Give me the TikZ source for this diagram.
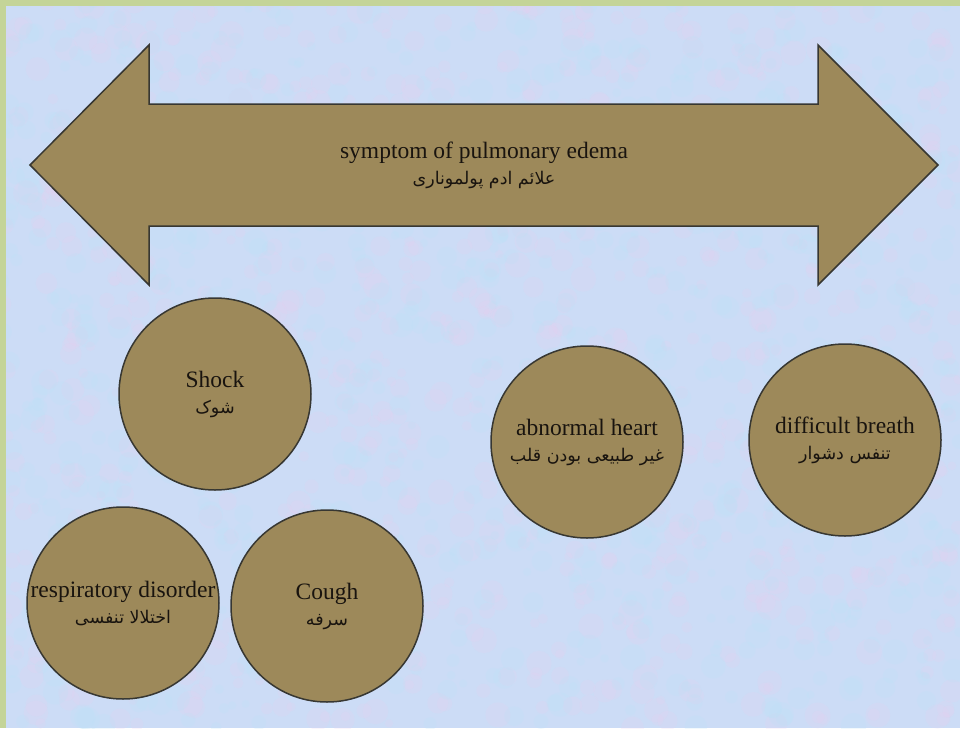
\documentclass[tikz,border=0pt]{standalone}
\usepackage{fontspec}
\setmainfont{Liberation Serif}
\newfontfamily\arabicfont[Script=Arabic]{DejaVu Sans}
\TeXXeTstate=1
\newcommand\persiantext[1]{{\arabicfont\fontsize{17.5}{20}\selectfont\beginR #1\endR}}

\definecolor{olivefill}{RGB}{157,137,90}
\definecolor{darkedge}{RGB}{55,55,50}
\definecolor{skyback}{RGB}{204,220,246}
\definecolor{pinktint}{RGB}{230,208,240}
\definecolor{cyantint}{RGB}{190,226,246}
\definecolor{frame}{RGB}{196,212,152}
\definecolor{inkcolor}{RGB}{25,20,15}

\tikzset{
  symptom/.style={circle, draw=darkedge, line width=1.5pt, fill=olivefill,
    minimum size=192pt, inner sep=0pt, align=center, text=inkcolor,
    font=\fontsize{23.5}{26}\selectfont},
  shape edge/.style={draw=darkedge, line width=1.5pt, fill=olivefill, line join=miter},
}

\begin{document}
\begin{tikzpicture}[x=1pt, y=-1pt]
  \useasboundingbox (0,0) rectangle (960,728);
  % page frame and mottled paper
  \fill[frame] (0,0) rectangle (960,728);
  \fill[skyback] (6,6) rectangle (960,728);
  \begin{scope}
    \clip (6,6) rectangle (960,728);
    \pgfmathsetseed{42}
    \foreach \i in {1,...,900} {
      \pgfmathsetmacro\px{rnd*960}
      \pgfmathsetmacro\py{rnd*728}
      \pgfmathsetmacro\pr{4+rnd*9}
      \fill[pinktint, opacity=0.22] (\px,\py) circle (\pr);
    }
    \foreach \i in {1,...,900} {
      \pgfmathsetmacro\px{rnd*960}
      \pgfmathsetmacro\py{rnd*728}
      \pgfmathsetmacro\pr{4+rnd*9}
      \fill[cyantint, opacity=0.22] (\px,\py) circle (\pr);
    }
  \end{scope}

  % two-headed banner arrow
  \path[shape edge] (30,165) -- (149,45) -- (149,104) -- (818,104) -- (818,45)
    -- (938,165) -- (818,285) -- (818,226) -- (149,226) -- (149,285) -- cycle;
  \node[align=center, text=inkcolor, font=\fontsize{23.5}{26}\selectfont] (title) at (484,165)
    {symptom of pulmonary edema\\ \persiantext{علائم ادم پولمونارى}};

  % symptom circles
  \node[symptom] (shock) at (215,394) {Shock\\ \persiantext{شوک}};
  \node[symptom] (heart) at (587,442) {abnormal heart\\ \persiantext{غیر طبیعی بودن قلب}};
  \node[symptom] (breath) at (845,440) {difficult breath\\ \persiantext{تنفس دشوار}};
  \node[symptom] (resp) at (123,603) {respiratory disorder\\ \persiantext{اختلالا تنفسی}};
  \node[symptom] (cough) at (327,606) {Cough\\ \persiantext{سرفه}};
\end{tikzpicture}
\end{document}
